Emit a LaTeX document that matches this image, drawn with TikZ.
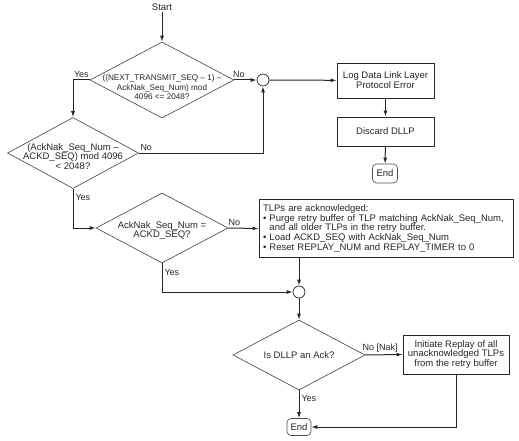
\documentclass[tikz,border=0pt]{standalone}
\usepackage{fontspec}
\setmainfont{Liberation Sans}
\usetikzlibrary{shapes.geometric,arrows.meta}

\tikzset{
  flow/.style={draw=black!85, line width=1pt, -{Latex[length=6pt,width=4pt]}},
  decision/.style={diamond, draw=black!75, line width=0.6pt, inner sep=0pt},
  dtext/.style={align=center, inner sep=0pt},
  procbox/.style={rectangle, draw=black!85, line width=0.9pt, align=center, inner sep=2pt},
  endbox/.style={rectangle, rounded corners=4pt, draw=black!70, line width=0.6pt, inner sep=0pt},
  junction/.style={circle, draw=black!85, line width=0.7pt, fill=white, minimum size=12pt, inner sep=0pt},
  lbl/.style={inner sep=2pt, font=\fontsize{9}{10}\selectfont}
}

\begin{document}
\begin{tikzpicture}[x=1pt, y=-1pt, font=\fontsize{9.5}{9.8}\selectfont, text=black!85]
\useasboundingbox (0,0) rectangle (519,441);

% start and first check
\node[inner sep=1pt] (start) at (162,7) {Start};
\node[decision, minimum width=144pt, minimum height=76pt] (nextchk) at (162,80) {};
\node[dtext, yshift=-7.5pt, font=\fontsize{8.2}{9.5}\selectfont] (nextchkt) at (nextchk) {((NEXT\_TRANSMIT\_SEQ \textendash\ 1) \textendash\\AckNak\_Seq\_Num) mod\\4096 <= 2048?};

% second check
\node[decision, minimum width=131pt, minimum height=71pt] (ackdchk) at (73,153) {};
\node[dtext, yshift=-3.5pt] (ackdchkt) at (ackdchk) {(AckNak\_Seq\_Num \textendash\\ACKD\_SEQ) mod 4096\\< 2048?};

% error branch
\node[junction] (j1) at (263,80) {};
\node[procbox, minimum width=97pt, minimum height=35pt] (logerr) at (385.5,80.5) {Log Data Link Layer\\Protocol Error};
\node[procbox, minimum width=97pt, minimum height=29pt] (discard) at (385.5,131.5) {Discard DLLP};
\node[endbox, minimum width=25pt, minimum height=19pt] (end1) at (385,173.5) {End};

% equal check and purge
\node[decision, minimum width=132pt, minimum height=70pt] (eqchk) at (162,228) {};
\node[dtext, yshift=-2.5pt] (eqchkt) at (eqchk) {AckNak\_Seq\_Num =\\ACKD\_SEQ?};
\node[procbox, align=left, text width=246pt, minimum height=58pt, inner sep=4pt] (purge) at (386,228.5) {TLPs are acknowledged:\\
\textbullet\ Purge retry buffer of TLP matching AckNak\_Seq\_Num,\\
\phantom{\textbullet\ }and all older TLPs in the retry buffer.\\
\textbullet\ Load ACKD\_SEQ with AckNak\_Seq\_Num\\
\textbullet\ Reset REPLAY\_NUM and REPLAY\_TIMER to 0};

% ack check and replay
\node[junction] (j2) at (299,292) {};
\node[decision, minimum width=132pt, minimum height=70pt] (ackchk) at (299,355) {};
\node[dtext] (ackchkt) at (ackchk) {Is DLLP an Ack?};
\node[procbox, minimum width=106pt, minimum height=39pt] (replay) at (456,354.5) {Initiate Replay of all\\unacknowledged TLPs\\from the retry buffer};
\node[endbox, minimum width=24pt, minimum height=17pt] (end2) at (299,427) {End};

% connectors
\draw[flow] (start) -- (nextchk.north);
\draw[flow] (nextchk.west) -| node[lbl, above, pos=0.25] {Yes} (ackdchk.north);
\draw[flow] (nextchk.east) -- node[lbl, above, pos=0.2] {No} (j1);
\draw[flow] (ackdchk.east) -| node[lbl, above, pos=0.03] {No} (j1.south);
\draw[flow] (j1) -- (logerr);
\draw[flow] (logerr) -- (discard);
\draw[flow] (discard) -- (end1);
\draw[flow] (ackdchk.south) |- node[lbl, right, pos=0.11] {Yes} (eqchk.west);
\draw[flow] (eqchk.east) -- node[lbl, above, pos=0.2] {No} (purge.west);
\draw[flow] (eqchk.south) |- node[lbl, right, pos=0.16] {Yes} (j2.west);
\draw[flow] (j2 |- purge.south) -- (j2.north);
\draw[flow] (j2) -- (ackchk.north);
\draw[flow] (ackchk.east) -- node[lbl, above, pos=0.4] {No [Nak]} (replay.west);
\draw[flow] (ackchk.south) -- node[lbl, right, pos=0.3] {Yes} (end2);
\draw[flow] (replay.south) |- (end2.east);

\end{tikzpicture}
\end{document}
